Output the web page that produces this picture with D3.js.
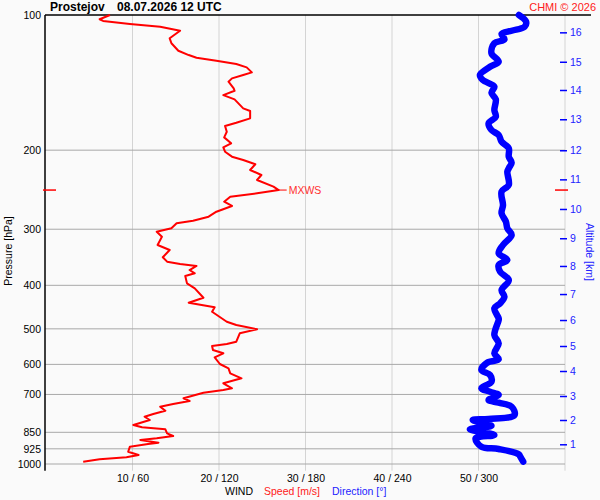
<!DOCTYPE html>
<html>
<head>
<meta charset="utf-8">
<script src="https://cdn.jsdelivr.net/npm/d3@7"></script>
<style>
  body { margin: 0; background: #fafafa; }
  svg { display: block; font-family: "Liberation Sans", Arial, sans-serif; }
</style>
</head>
<body>
<script>
const width = 600;
const height = 500;

// wind speed profile (hPa, m/s)
const speedP = [100,102.2,103.1,104.7,106.2,108.4,112.7,115.6,120.1,122.8,124.5,126.4,128.6,130.8,134.2,136,138.4,140.8,145.7,147.5,
  150.8,154.1,161.4,163.6,169.9,173.8,176.7,182,187.3,193.1,197.1,201.6,206.8,210.3,215,221.4,227.2,233.1,241.2,245.4,
  249.5,253.9,260.5,266.3,274.2,281.3,287.1,291,298.6,303.8,311.7,325.2,333.7,346.4,354.3,358.6,362.2,369.8,376.1,381.4,
  396,406.2,426.3,437.4,447.7,458,482.1,490.3,501.2,511.6,534.1,540.4,546,557.4,566.9,578.6,598.8,612.2,628.1,644.4,
  661.2,678.3,684.3,693.8,714,724,735.3,745.5,760.9,773.8,784.7,798,818.7,828.5,836.9,854.3,866.2,876.6,884.2,896.6,
  902.6,915.1,938.9,955,966.3,976.1,988.3];
const speed = [7.4,6.2,6.6,9.7,13.2,15.5,14.3,14.5,15.3,16.5,17.4,19.7,22.0,23.2,23.8,22.8,21.5,21.1,21.7,21.8,
  20.5,21.8,22.8,23.6,23.6,22.0,20.7,20.9,20.6,21.4,20.5,20.7,21.5,22.8,24.2,23.6,24.9,24.4,26.3,26.9,
  24.4,21.3,20.6,21.5,19.7,18.8,17.0,15.1,14.5,12.8,13.4,12.9,14.3,13.5,14.0,15.5,17.4,16.6,17.2,16.1,
  16.3,17.2,18.2,16.5,19.5,19.2,20.9,22.0,24.4,22.4,22.0,20.9,19.2,19.3,20.5,19.5,20.1,21.1,21.3,22.6,
  20.5,21.5,20.5,18.2,15.9,16.6,14.7,13.2,13.8,12.4,11.4,12.0,10.1,11.1,13.8,14.0,14.7,12.8,10.9,13.0,
  11.8,9.7,9.5,10.7,9.3,6.2,4.3];

// wind direction profile (hPa, degrees)
const dirP = [100,103.5,106.2,108.4,110.2,113.3,115.6,121.7,127.1,130.4,136,139.6,144.4,149,154.1,162.8,168.5,174.3,180.4,185,
  191.5,198.1,206.8,213.3,219.5,223.4,239.1,247.5,265,276.4,288.6,298.6,309,325.2,339.4,351.3,360.4,373.1,389.4,409.8,
  424.1,438.7,450.1,473.7,477.9,516.1,538.6,566.9,584.5,594.9,617.5,633.6,655.6,678.3,690.2,701.9,714,720.2,730.4,745.5,778,
  794,798,821.8,836.9,861.9,876.6,915.1,925.9,951.5,963.2,988.3];
const direction = [328,333,332,323,316,318,311,309,314,308,301,303,311,309,312,311,312,307,309,314,
  316,321,321,323,321,320,321,316,317,316,319,320,323,317,314,320,314,315,321,316,
  318,315,311,314,314,311,314,311,314,306,302,308,309,302,308,314,309,307,314,323,325,
  307,296,309,294,311,298,302,314,328,329,331];

// axis ticks
const pressureLevels = [100,200,300,400,500,600,700,850,925,1000];
const speedTicks = [10,20,30,40,50];
const gridSpeeds = [10,20,30,40,50,60];
const altKm = [1,2,3,4,5,6,7,8,9,10,11,12,13,14,15,16];
const altP = [903.9,798,705.6,620.7,546,477.9,418.3,362.2,314.2,270.4,232.3,200.1,170.7,146.9,127.1,109.3];

const plotLeft = 46, plotRight = 565, plotTop = 15;
const x = d3.scaleLinear().domain([0, 60]).range([plotLeft, plotRight]);
const xDir = d3.scaleLinear().domain([0, 360]).range([plotLeft, plotRight]);
const y = d3.scaleLog().domain([100, 1000]).range([plotTop, 464]);
const pBottom = 1035;

const svg = d3.select('body').append('svg').attr('width', width).attr('height', height);
svg.append('rect').attr('width', width).attr('height', height).attr('fill', '#fafafa');

// vertical grid
svg.append('g').selectAll('line').data(gridSpeeds).enter().append('line')
  .attr('x1', d => x(d)).attr('x2', d => x(d))
  .attr('y1', plotTop).attr('y2', y(pBottom))
  .attr('stroke', '#d4d4d4').attr('stroke-width', 1);

// horizontal grid
svg.append('g').selectAll('line').data(pressureLevels.slice(1)).enter().append('line')
  .attr('x1', 45).attr('x2', plotRight)
  .attr('y1', d => y(d)).attr('y2', d => y(d))
  .attr('stroke', '#a8a8a8').attr('stroke-width', 1);

// frame
svg.append('line').attr('x1', 45).attr('x2', 45).attr('y1', plotTop).attr('y2', y(pBottom))
  .attr('stroke', '#000').attr('stroke-width', 1.5);
svg.append('line').attr('x1', 45).attr('x2', 591).attr('y1', plotTop).attr('y2', plotTop)
  .attr('stroke', '#000').attr('stroke-width', 1.5);

// pressure labels
const yAxis = svg.append('g').attr('transform', 'translate(45,0)')
  .call(d3.axisLeft(y).tickValues(pressureLevels).tickSize(0).tickPadding(4).tickFormat(d3.format('d')));
yAxis.select('.domain').remove();
yAxis.selectAll('text').attr('font-size', 10.5).attr('fill', '#000').attr('font-family', 'Liberation Sans, Arial, sans-serif');

// speed / direction labels
const xAxis = svg.append('g').attr('transform', 'translate(0,471)')
  .call(d3.axisBottom(x).tickValues(speedTicks).tickSize(0).tickPadding(3.5).tickFormat(d => d + ' / ' + d * 6));
xAxis.select('.domain').remove();
xAxis.selectAll('text').attr('font-size', 10.5).attr('fill', '#000').attr('font-family', 'Liberation Sans, Arial, sans-serif');

// altitude axis
const altAxis = svg.append('g').attr('transform', 'translate(560,0)')
  .call(d3.axisRight(y).tickValues(altP).tickSize(7).tickPadding(3).tickFormat((d, i) => altKm[i]));
altAxis.select('.domain').remove();
altAxis.selectAll('line').attr('stroke', '#0000ff').attr('stroke-width', 1.5);
altAxis.selectAll('text').attr('font-size', 10.5).attr('fill', '#2222ff').attr('font-family', 'Liberation Sans, Arial, sans-serif');

// profiles
const speedLine = d3.line().x(d => x(d[1])).y(d => y(d[0])).curve(d3.curveLinear);
svg.append('path').datum(speedP.map((p, i) => [p, speed[i]]))
  .attr('d', speedLine).attr('fill', 'none').attr('stroke', '#ff0000')
  .attr('stroke-width', 2).attr('stroke-linejoin', 'round');

const dirLine = d3.line().x(d => xDir(d[1])).y(d => y(d[0])).curve(d3.curveCatmullRom);
svg.append('path').datum(dirP.map((p, i) => [p, direction[i]]))
  .attr('d', dirLine).attr('fill', 'none').attr('stroke', '#0000ff')
  .attr('stroke-width', 6.5).attr('stroke-linejoin', 'round').attr('stroke-linecap', 'round');

// max wind
const iMax = d3.maxIndex(speed);
const yMax = y(speedP[iMax]);
const xMax = x(speed[iMax]);
svg.append('line').attr('x1', xMax).attr('x2', xMax + 8).attr('y1', yMax).attr('y2', yMax)
  .attr('stroke', '#ff0000').attr('stroke-width', 1);
svg.append('text').attr('x', xMax + 10).attr('y', yMax).attr('dy', '0.35em')
  .attr('font-size', 10.5).attr('fill', '#ff3030').text('MXWS');
svg.append('line').attr('x1', 43).attr('x2', 56).attr('y1', yMax).attr('y2', yMax)
  .attr('stroke', '#ff0000').attr('stroke-width', 1.5);
svg.append('line').attr('x1', 555).attr('x2', 568).attr('y1', yMax).attr('y2', yMax)
  .attr('stroke', '#ff0000').attr('stroke-width', 1.5);

// titles
svg.append('text').attr('x', 50).attr('y', 11).attr('font-size', 12).attr('font-weight', 'bold')
  .attr('fill', '#000').text('Prostejov');
svg.append('text').attr('x', 117).attr('y', 11).attr('font-size', 12).attr('font-weight', 'bold')
  .attr('fill', '#000').text('08.07.2026 12 UTC');
svg.append('text').attr('x', 596).attr('y', 10.5).attr('text-anchor', 'end').attr('font-size', 11)
  .attr('fill', '#ff2020').text('CHMI © 2026');

svg.append('text').attr('transform', 'translate(12,251) rotate(-90)').attr('text-anchor', 'middle')
  .attr('font-size', 10.5).attr('fill', '#000').text('Pressure [hPa]');
svg.append('text').attr('transform', 'translate(586,252) rotate(90)').attr('text-anchor', 'middle')
  .attr('font-size', 10.5).attr('fill', '#2222ff').text('Altitude [km]');

svg.append('text').attr('x', 225).attr('y', 495).attr('font-size', 10.5).attr('fill', '#000').text('WIND');
svg.append('text').attr('x', 264).attr('y', 495).attr('font-size', 10.5).attr('fill', '#ff2020').text('Speed [m/s]');
svg.append('text').attr('x', 332).attr('y', 495).attr('font-size', 10.5).attr('fill', '#2222ff').text('Direction [°]');
</script>
</body>
</html>
